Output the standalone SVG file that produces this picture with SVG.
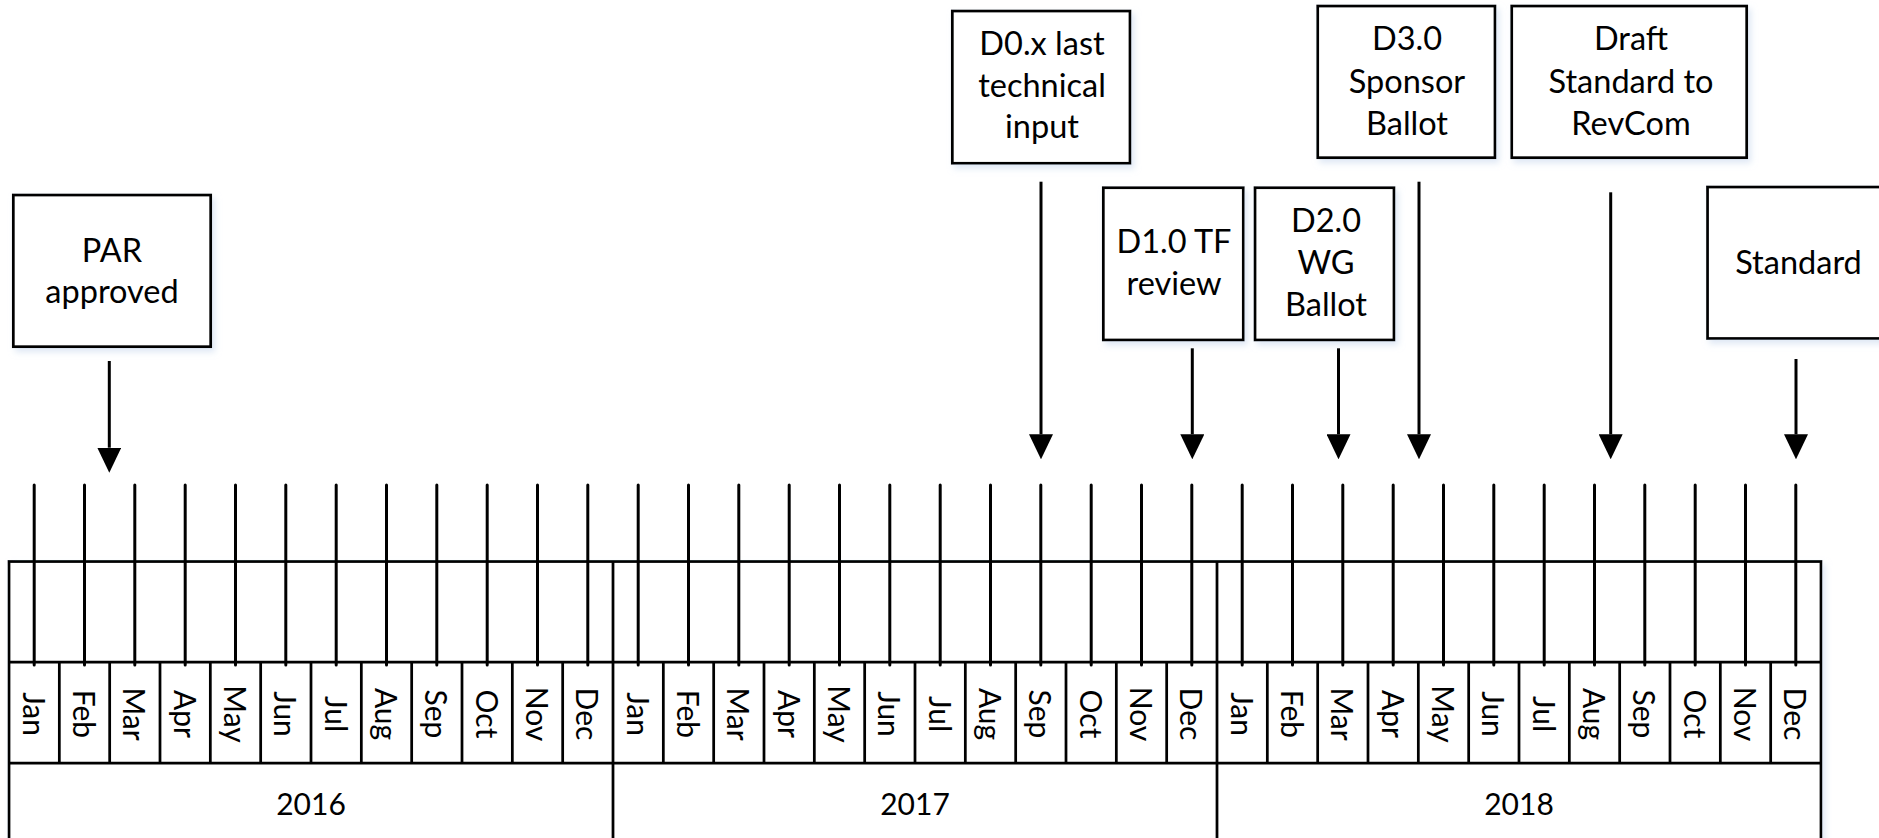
<svg xmlns="http://www.w3.org/2000/svg" width="1879" height="838" viewBox="0 0 1879 838">
<style>
.box{fill:#fff;stroke:#000;stroke-width:2.75;filter:url(#sh)}
.lbl{font-family:Lato,"Liberation Sans",sans-serif;font-size:30px;fill:#000;text-anchor:middle}
.nl{font-size:32.5px}
.ln{stroke:#000;stroke-width:2.75;fill:none}
.tick{stroke:#000;stroke-width:3;stroke-linecap:round}
.arr{stroke:#000;stroke-width:3;fill:none;marker-end:url(#ah)}
</style>
<defs>
<filter id="sh" x="-10%" y="-10%" width="130%" height="130%">
<feDropShadow dx="3" dy="4" stdDeviation="3" flood-color="#c9d9ee" flood-opacity="0.6"/>
</filter>
<marker id="ah" markerUnits="userSpaceOnUse" viewBox="0 -12 25 24" refX="0" refY="0" markerWidth="25" markerHeight="24" orient="auto">
<path d="M0,-12 L25,0 L0,12 z" fill="#000"/>
</marker>
</defs>
<rect width="1879" height="838" fill="#fff"/>

<g id="timeline">
<rect class="box" x="9" y="561.5" width="1812" height="278"/>
<line class="ln" x1="9" y1="662" x2="1821" y2="662"/>
<line class="ln" x1="9" y1="763" x2="1821" y2="763"/>
<g class="ln">
<line x1="59.33" y1="662" x2="59.33" y2="763"/><line x1="109.67" y1="662" x2="109.67" y2="763"/><line x1="160" y1="662" x2="160" y2="763"/><line x1="210.33" y1="662" x2="210.33" y2="763"/><line x1="260.67" y1="662" x2="260.67" y2="763"/><line x1="311" y1="662" x2="311" y2="763"/><line x1="361.33" y1="662" x2="361.33" y2="763"/><line x1="411.67" y1="662" x2="411.67" y2="763"/><line x1="462" y1="662" x2="462" y2="763"/><line x1="512.33" y1="662" x2="512.33" y2="763"/><line x1="562.67" y1="662" x2="562.67" y2="763"/>
<line x1="613" y1="561.5" x2="613" y2="839"/>
<line x1="663.33" y1="662" x2="663.33" y2="763"/><line x1="713.67" y1="662" x2="713.67" y2="763"/><line x1="764" y1="662" x2="764" y2="763"/><line x1="814.33" y1="662" x2="814.33" y2="763"/><line x1="864.67" y1="662" x2="864.67" y2="763"/><line x1="915" y1="662" x2="915" y2="763"/><line x1="965.33" y1="662" x2="965.33" y2="763"/><line x1="1015.67" y1="662" x2="1015.67" y2="763"/><line x1="1066" y1="662" x2="1066" y2="763"/><line x1="1116.33" y1="662" x2="1116.33" y2="763"/><line x1="1166.67" y1="662" x2="1166.67" y2="763"/>
<line x1="1217" y1="561.5" x2="1217" y2="839"/>
<line x1="1267.33" y1="662" x2="1267.33" y2="763"/><line x1="1317.67" y1="662" x2="1317.67" y2="763"/><line x1="1368" y1="662" x2="1368" y2="763"/><line x1="1418.33" y1="662" x2="1418.33" y2="763"/><line x1="1468.67" y1="662" x2="1468.67" y2="763"/><line x1="1519" y1="662" x2="1519" y2="763"/><line x1="1569.33" y1="662" x2="1569.33" y2="763"/><line x1="1619.67" y1="662" x2="1619.67" y2="763"/><line x1="1670" y1="662" x2="1670" y2="763"/><line x1="1720.33" y1="662" x2="1720.33" y2="763"/><line x1="1770.67" y1="662" x2="1770.67" y2="763"/>
</g>
<g class="lbl">
<text x="311" y="815">2016</text>
<text x="915" y="815">2017</text>
<text x="1519" y="815">2018</text>
</g>
<g class="lbl">
<text transform="translate(22.7,714) rotate(90)">Jan</text>
<text transform="translate(73,714) rotate(90)">Feb</text>
<text transform="translate(123.3,714) rotate(90)">Mar</text>
<text transform="translate(173.7,714) rotate(90)">Apr</text>
<text transform="translate(224,714) rotate(90)">May</text>
<text transform="translate(274.3,714) rotate(90)">Jun</text>
<text transform="translate(324.7,714) rotate(90)">Jul</text>
<text transform="translate(375,714) rotate(90)">Aug</text>
<text transform="translate(425.3,714) rotate(90)">Sep</text>
<text transform="translate(475.7,714) rotate(90)">Oct</text>
<text transform="translate(526,714) rotate(90)">Nov</text>
<text transform="translate(576.3,714) rotate(90)">Dec</text>
<text transform="translate(626.7,714) rotate(90)">Jan</text>
<text transform="translate(677,714) rotate(90)">Feb</text>
<text transform="translate(727.3,714) rotate(90)">Mar</text>
<text transform="translate(777.7,714) rotate(90)">Apr</text>
<text transform="translate(828,714) rotate(90)">May</text>
<text transform="translate(878.3,714) rotate(90)">Jun</text>
<text transform="translate(928.7,714) rotate(90)">Jul</text>
<text transform="translate(979,714) rotate(90)">Aug</text>
<text transform="translate(1029.3,714) rotate(90)">Sep</text>
<text transform="translate(1079.7,714) rotate(90)">Oct</text>
<text transform="translate(1130,714) rotate(90)">Nov</text>
<text transform="translate(1180.3,714) rotate(90)">Dec</text>
<text transform="translate(1230.7,714) rotate(90)">Jan</text>
<text transform="translate(1281,714) rotate(90)">Feb</text>
<text transform="translate(1331.3,714) rotate(90)">Mar</text>
<text transform="translate(1381.7,714) rotate(90)">Apr</text>
<text transform="translate(1432,714) rotate(90)">May</text>
<text transform="translate(1482.3,714) rotate(90)">Jun</text>
<text transform="translate(1532.7,714) rotate(90)">Jul</text>
<text transform="translate(1583,714) rotate(90)">Aug</text>
<text transform="translate(1633.3,714) rotate(90)">Sep</text>
<text transform="translate(1683.7,714) rotate(90)">Oct</text>
<text transform="translate(1734,714) rotate(90)">Nov</text>
<text transform="translate(1784.3,714) rotate(90)">Dec</text>
</g>
<g class="tick">
<line x1="34.2" y1="485" x2="34.2" y2="665"/><line x1="84.5" y1="485" x2="84.5" y2="665"/><line x1="134.8" y1="485" x2="134.8" y2="665"/><line x1="185.2" y1="485" x2="185.2" y2="665"/><line x1="235.5" y1="485" x2="235.5" y2="665"/><line x1="285.8" y1="485" x2="285.8" y2="665"/><line x1="336.2" y1="485" x2="336.2" y2="665"/><line x1="386.5" y1="485" x2="386.5" y2="665"/><line x1="436.8" y1="485" x2="436.8" y2="665"/><line x1="487.2" y1="485" x2="487.2" y2="665"/><line x1="537.5" y1="485" x2="537.5" y2="665"/><line x1="587.8" y1="485" x2="587.8" y2="665"/>
<line x1="638.2" y1="485" x2="638.2" y2="665"/><line x1="688.5" y1="485" x2="688.5" y2="665"/><line x1="738.8" y1="485" x2="738.8" y2="665"/><line x1="789.2" y1="485" x2="789.2" y2="665"/><line x1="839.5" y1="485" x2="839.5" y2="665"/><line x1="889.8" y1="485" x2="889.8" y2="665"/><line x1="940.2" y1="485" x2="940.2" y2="665"/><line x1="990.5" y1="485" x2="990.5" y2="665"/><line x1="1040.8" y1="485" x2="1040.8" y2="665"/><line x1="1091.2" y1="485" x2="1091.2" y2="665"/><line x1="1141.5" y1="485" x2="1141.5" y2="665"/><line x1="1191.8" y1="485" x2="1191.8" y2="665"/>
<line x1="1242.2" y1="485" x2="1242.2" y2="665"/><line x1="1292.5" y1="485" x2="1292.5" y2="665"/><line x1="1342.8" y1="485" x2="1342.8" y2="665"/><line x1="1393.2" y1="485" x2="1393.2" y2="665"/><line x1="1443.5" y1="485" x2="1443.5" y2="665"/><line x1="1493.8" y1="485" x2="1493.8" y2="665"/><line x1="1544.2" y1="485" x2="1544.2" y2="665"/><line x1="1594.5" y1="485" x2="1594.5" y2="665"/><line x1="1644.8" y1="485" x2="1644.8" y2="665"/><line x1="1695.2" y1="485" x2="1695.2" y2="665"/><line x1="1745.5" y1="485" x2="1745.5" y2="665"/><line x1="1795.8" y1="485" x2="1795.8" y2="665"/>
</g>
</g>

<g id="node-par">
<rect class="box" x="13.3" y="195" width="197.4" height="151.7"/>
<text class="lbl nl" x="112" y="261.5">PAR</text>
<text class="lbl nl" x="112" y="303">approved</text>
</g>
<g id="node-d0x">
<rect class="box" x="952.3" y="11" width="177.7" height="152.3"/>
<text class="lbl nl" x="1042" y="55">D0.x last</text>
<text class="lbl nl" x="1042" y="96.7">technical</text>
<text class="lbl nl" x="1042" y="138">input</text>
</g>
<g id="node-d10">
<rect class="box" x="1103.3" y="187.7" width="140" height="152.3"/>
<text class="lbl nl" x="1174" y="253">D1.0 TF</text>
<text class="lbl nl" x="1174" y="295">review</text>
</g>
<g id="node-d20">
<rect class="box" x="1255" y="187.7" width="139" height="152.3"/>
<text class="lbl nl" x="1326" y="231.7">D2.0</text>
<text class="lbl nl" x="1326" y="273.5">WG</text>
<text class="lbl nl" x="1326" y="316">Ballot</text>
</g>
<g id="node-d30">
<rect class="box" x="1317.7" y="6" width="177.3" height="151.7"/>
<text class="lbl nl" x="1407" y="50">D3.0</text>
<text class="lbl nl" x="1407" y="92.5">Sponsor</text>
<text class="lbl nl" x="1407" y="135">Ballot</text>
</g>
<g id="node-draft">
<rect class="box" x="1511.7" y="6" width="235" height="151.7"/>
<text class="lbl nl" x="1631" y="50">Draft</text>
<text class="lbl nl" x="1631" y="93">Standard to</text>
<text class="lbl nl" x="1631" y="135">RevCom</text>
</g>
<g id="node-standard">
<rect class="box" x="1707.5" y="187" width="185" height="151.5"/>
<text class="lbl nl" x="1798.5" y="274">Standard</text>
</g>

<g id="connectors">
<line class="arr" x1="109.3" y1="361" x2="109.3" y2="447.7"/>
<line class="arr" x1="1041" y1="181.7" x2="1041" y2="434.3"/>
<line class="arr" x1="1192.3" y1="348.3" x2="1192.3" y2="434.3"/>
<line class="arr" x1="1338.5" y1="348.3" x2="1338.5" y2="434.3"/>
<line class="arr" x1="1419" y1="181.7" x2="1419" y2="434.3"/>
<line class="arr" x1="1610.7" y1="192.3" x2="1610.7" y2="434.3"/>
<line class="arr" x1="1796" y1="359" x2="1796" y2="434.3"/>
</g>
</svg>
